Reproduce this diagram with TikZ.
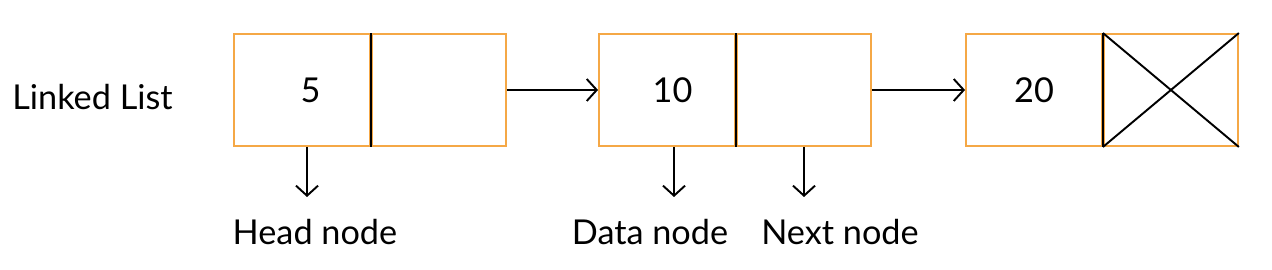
\documentclass[tikz,border=0pt]{standalone}
\usepackage{fontspec}
\setmainfont{Lato}
\usetikzlibrary{positioning,arrows.meta}
\definecolor{boxorange}{RGB}{245,168,70}

\begin{document}
\begin{tikzpicture}[x=0.02cm,y=-0.02cm,
    cell/.style={draw=boxorange, line width=1.1pt, minimum height=2.24cm,
      inner sep=0pt, font=\fontsize{19.5}{22}\selectfont},
    datacell/.style={cell, minimum width=2.72cm},
    nextcell/.style={cell, minimum width=2.68cm},
    link/.style={-{Straight Barb[length=2mm,width=4.4mm]}, line width=1.1pt},
    lbl/.style={font=\fontsize{19.5}{22}\selectfont, inner sep=0pt, anchor=base}]
    \useasboundingbox (0,0) rectangle (1272,270);
    % Title
    \node[lbl, anchor=base west] (title) at (12,110) {Linked List};
    % Nodes of the list
    \node[datacell] (d1) at (302,90) {\hspace*{0.34cm}5};
    \node[nextcell, right=0pt of d1] (n1) {};
    \node[datacell] (d2) at (667,90) {\hspace*{0.22cm}10};
    \node[nextcell, right=0pt of d2] (n2) {};
    \node[datacell] (d3) at (1034,90) {20};
    \node[nextcell, right=0pt of d3] (n3) {};
    % Dividers
    \draw[line width=1.1pt] (d1.north east) -- (d1.south east);
    \draw[line width=1.1pt] (d2.north east) -- (d2.south east);
    \draw[line width=1.1pt] (d3.north east) -- (d3.south east);
    % Null pointer
    \draw[line width=1.1pt] (n3.north west) -- (n3.south east);
    \draw[line width=1.1pt] (n3.south west) -- (n3.north east);
    % Links
    \draw[link] (n1.east) -- (d2.west);
    \draw[link] (n2.east) -- (d3.west);
    % Labels
    \node[lbl] (head) at (315,244) {Head node};
    \node[lbl] (data) at (650,244) {Data node};
    \node[lbl] (next) at (840,244) {Next node};
    \coordinate (headtip) at (307,197);
    \coordinate (datatip) at (674,197);
    \coordinate (nexttip) at (804,197);
    \draw[link] (d1.south -| headtip) -- (headtip);
    \draw[link] (d2.south -| datatip) -- (datatip);
    \draw[link] (n2.south -| nexttip) -- (nexttip);
\end{tikzpicture}
\end{document}
